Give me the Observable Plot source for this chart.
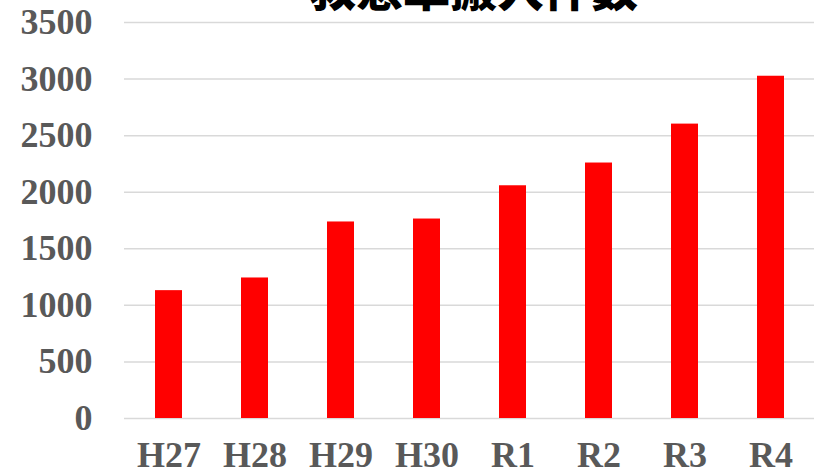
<!DOCTYPE html>
<html>
<head>
<meta charset="utf-8">
<script src="https://cdn.jsdelivr.net/npm/d3@7"></script>
<script src="https://cdn.jsdelivr.net/npm/@observablehq/plot@0.6"></script>
<style>
  html, body { margin: 0; padding: 0; background: #fff; overflow: hidden; }
  #wrap { position: relative; width: 817px; height: 471px; }
  #title {
    position: absolute; left: 0; width: 817px; top: -38px;
    text-align: center; padding-left: 130px; box-sizing: border-box;
    font-family: "Noto Sans CJK JP", sans-serif; font-weight: 900;
    font-size: 47px; line-height: 1; color: #000; z-index: 2;
  }
  svg { position: absolute; left: 0; top: 0; }
</style>
</head>
<body>
<div id="wrap"><div id="title">救急車搬入件数</div></div>
<script>
const categories = ["H27", "H28", "H29", "H30", "R1", "R2", "R3", "R4"];
const values = [1130, 1242, 1737, 1763, 2057, 2258, 2602, 3025];
const yTicks = [0, 500, 1000, 1500, 2000, 2500, 3000, 3500];

const data = categories.map((c, i) => ({ year: c, count: values[i] }));

const chart = Plot.plot({
  width: 817,
  height: 471,
  marginLeft: 124,
  marginRight: 3,
  marginTop: 22,
  marginBottom: 53,
  style: { fontFamily: "'Liberation Serif', 'Times New Roman', serif", fontWeight: "bold", background: "#fff" },
  x: { domain: categories, paddingInner: 0.687, paddingOuter: 0.35, label: null },
  y: { domain: [0, 3500], label: null },
  marks: [
    Plot.gridY(yTicks, { stroke: "#d9d9d9", strokeOpacity: 1, strokeWidth: 1.5 }),
    Plot.barY(data, { x: "year", y: "count", fill: "#ff0000" }),
    Plot.axisY(yTicks, { tickSize: 0, tickPadding: 32, fontSize: 36, fontWeight: "bold", fill: "#595959", label: null, tickFormat: d => String(d) }),
    Plot.axisX({ tickSize: 0, tickPadding: 23, fontSize: 36, fontWeight: "bold", fill: "#595959", label: null })
  ]
});
document.getElementById("wrap").appendChild(chart);
</script>
</body>
</html>
